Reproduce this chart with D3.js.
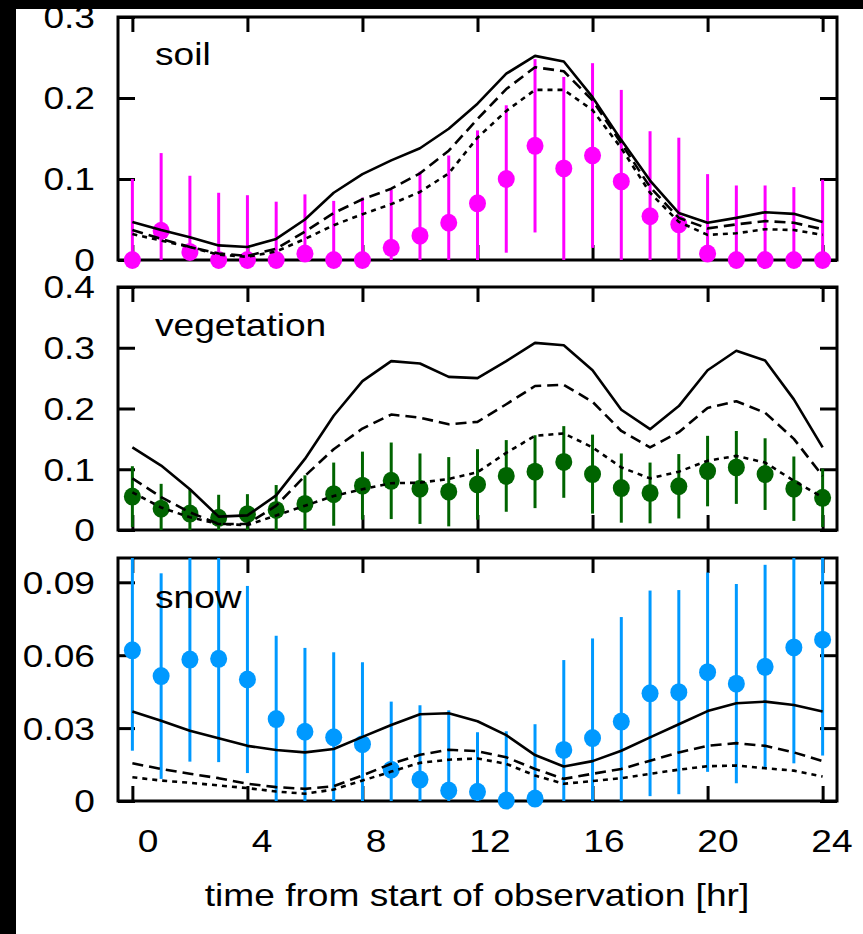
<!DOCTYPE html>
<html>
<head>
<meta charset="utf-8">
<script src="https://cdn.jsdelivr.net/npm/d3@7"></script>
<style>
  html, body { margin: 0; padding: 0; background: #fff; }
  svg { display: block; }
</style>
</head>
<body>
<svg id="chart" width="863" height="934"></svg>
<script>
// Hours of the day (one sample per hour)
const hours = [0,1,2,3,4,5,6,7,8,9,10,11,12,13,14,15,16,17,18,19,20,21,22,23,24];
const xTickValues = [0, 4, 8, 12, 16, 20, 24];
const xTickLabels = ["0", "4", "8", "12", "16", "20", "24"];

// Soil
const soilObs = [0, 0.036, 0.01, 0, 0, 0, 0.008, 0, 0, 0.015, 0.03, 0.046, 0.07, 0.1, 0.141, 0.113, 0.129, 0.097, 0.054, 0.044, 0.008, 0, 0, 0, 0];
const soilErr = [0.10, 0.096, 0.094, 0.083, 0.080, 0.072, 0.073, 0.073, 0.077, 0.072, 0.079, 0.083, 0.09, 0.091, 0.107, 0.113, 0.114, 0.113, 0.105, 0.107, 0.098, 0.092, 0.092, 0.09, 0.099];
const soilSolid = [0.047, 0.037, 0.028, 0.018, 0.016, 0.026, 0.05, 0.083, 0.106, 0.123, 0.138, 0.162, 0.193, 0.23, 0.252, 0.245, 0.201, 0.148, 0.098, 0.058, 0.046, 0.052, 0.059, 0.057, 0.047];
const soilDashed = [0.037, 0.026, 0.016, 0.008, 0.005, 0.014, 0.035, 0.058, 0.075, 0.088, 0.107, 0.135, 0.174, 0.211, 0.238, 0.233, 0.197, 0.144, 0.09, 0.052, 0.039, 0.044, 0.048, 0.046, 0.038];
const soilDotted = [0.032, 0.024, 0.016, 0.0065, 0.004, 0.0105, 0.026, 0.043, 0.0565, 0.069, 0.084, 0.107, 0.151, 0.184, 0.21, 0.21, 0.185, 0.138, 0.083, 0.047, 0.031, 0.033, 0.038, 0.037, 0.031];
const soilTicks = [0, 0.1, 0.2, 0.3];
const soilTickLabels = ["0", "0.1", "0.2", "0.3"];

// Vegetation
const vegObs = [0.055, 0.035, 0.027, 0.02, 0.026, 0.033, 0.043, 0.059, 0.073, 0.081, 0.068, 0.063, 0.075, 0.089, 0.096, 0.112, 0.092, 0.069, 0.061, 0.072, 0.097, 0.103, 0.092, 0.068, 0.053];
const vegErr = [0.05, 0.041, 0.04, 0.038, 0.033, 0.041, 0.047, 0.052, 0.056, 0.063, 0.058, 0.057, 0.058, 0.059, 0.060, 0.059, 0.065, 0.057, 0.050, 0.053, 0.058, 0.060, 0.059, 0.053, 0.048];
const vegSolid = [0.136, 0.106, 0.067, 0.022, 0.024, 0.057, 0.117, 0.188, 0.245, 0.278, 0.274, 0.252, 0.25, 0.278, 0.308, 0.304, 0.263, 0.198, 0.166, 0.204, 0.263, 0.295, 0.279, 0.215, 0.136];
const vegDashed = [0.085, 0.054, 0.029, 0.01, 0.01, 0.04, 0.089, 0.133, 0.167, 0.19, 0.185, 0.174, 0.178, 0.207, 0.237, 0.239, 0.211, 0.163, 0.136, 0.161, 0.201, 0.212, 0.193, 0.15, 0.089];
const vegDotted = [0.062, 0.037, 0.021, 0.01, 0.008, 0.024, 0.04, 0.056, 0.067, 0.077, 0.078, 0.084, 0.095, 0.127, 0.155, 0.159, 0.136, 0.103, 0.085, 0.096, 0.114, 0.122, 0.111, 0.081, 0.054];
const vegTicks = [0, 0.1, 0.2, 0.3, 0.4];
const vegTickLabels = ["0", "0.1", "0.2", "0.3", "0.4"];

// Snow
const snowObs = [0.062, 0.0514, 0.0582, 0.0585, 0.050, 0.0337, 0.0285, 0.0262, 0.0234, 0.0129, 0.0088, 0.0043, 0.0038, 0.0002, 0.001, 0.021, 0.0259, 0.0327, 0.0443, 0.0448, 0.053, 0.0483, 0.0552, 0.0632, 0.0664];
const snowErr = [0.0413, 0.0423, 0.042, 0.0425, 0.0385, 0.0343, 0.0345, 0.035, 0.0337, 0.028, 0.0306, 0.033, 0.0245, 0.0285, 0.0306, 0.037, 0.041, 0.043, 0.0423, 0.042, 0.041, 0.041, 0.042, 0.0477, 0.0477];
const snowSolid = [0.0368, 0.033, 0.0289, 0.0258, 0.0227, 0.021, 0.020, 0.0214, 0.0264, 0.0313, 0.0357, 0.0361, 0.0328, 0.0271, 0.0189, 0.0142, 0.0164, 0.0207, 0.0262, 0.0316, 0.037, 0.0402, 0.0409, 0.0395, 0.0368];
const snowDashed = [0.0155, 0.0132, 0.0112, 0.0094, 0.0071, 0.0057, 0.005, 0.0061, 0.0105, 0.0153, 0.019, 0.0211, 0.0205, 0.018, 0.0132, 0.0091, 0.0112, 0.0132, 0.0166, 0.020, 0.0227, 0.0238, 0.0227, 0.020, 0.0164];
const snowDotted = [0.0098, 0.0084, 0.0075, 0.0064, 0.0053, 0.0039, 0.003, 0.0047, 0.0084, 0.0121, 0.0157, 0.017, 0.0175, 0.0153, 0.0105, 0.0071, 0.0082, 0.0094, 0.0112, 0.0129, 0.0143, 0.0146, 0.0135, 0.0125, 0.0101];
const snowTicks = [0, 0.03, 0.06, 0.09];
const snowTickLabels = ["0", "0.03", "0.06", "0.09"];

const xTitle = "time from start of observation [hr]";

// ---- layout ----
const FONT = "'Liberation Sans', Arial, Helvetica, sans-serif";
const FS = 32;          // font size
const SX = 1.16;        // horizontal glyph stretch
const left = 118, right = 837;

const panels = [
  { name: "soil", top: 17, bottom: 260, ymax: 0.3, ticks: soilTicks, tickLabels: soilTickLabels,
    obs: soilObs, err: soilErr, solid: soilSolid, dashed: soilDashed, dotted: soilDotted,
    color: "#ff00ff", labelY: 65 },
  { name: "vegetation", top: 287, bottom: 530, ymax: 0.4, ticks: vegTicks, tickLabels: vegTickLabels,
    obs: vegObs, err: vegErr, solid: vegSolid, dashed: vegDashed, dotted: vegDotted,
    color: "#006400", labelY: 336 },
  { name: "snow", top: 558, bottom: 801, ymax: 0.1, ticks: snowTicks, tickLabels: snowTickLabels,
    obs: snowObs, err: snowErr, solid: snowSolid, dashed: snowDashed, dotted: snowDotted,
    color: "#0099ff", labelY: 608 }
];

const svg = d3.select("#chart");
svg.append("rect").attr("width", 863).attr("height", 934).attr("fill", "#fff");

const x = d3.scaleLinear().domain([-0.5, 24.5]).range([left, right]);
// tick labels sit slightly right of their tick marks
const xLabel = d3.scaleLinear().domain([0, 24]).range([148, 832]);

function stretchedText(g, tx, ty, str, anchor) {
  return g.append("text")
    .attr("transform", `translate(${tx},${ty}) scale(${SX},1)`)
    .attr("text-anchor", anchor)
    .attr("font-family", FONT)
    .attr("font-size", FS)
    .attr("fill", "#000")
    .text(str);
}

const defs = svg.append("defs");

panels.forEach((p, i) => {
  const y = d3.scaleLinear().domain([0, p.ymax]).range([p.bottom, p.top]);
  const g = svg.append("g").attr("class", "panel-" + p.name);

  defs.append("clipPath").attr("id", "clip" + i)
    .append("rect")
    .attr("x", left).attr("y", p.top)
    .attr("width", right - left).attr("height", p.bottom - p.top);

  // frame
  g.append("rect")
    .attr("x", left).attr("y", p.top)
    .attr("width", right - left).attr("height", p.bottom - p.top)
    .attr("fill", "none").attr("stroke", "#000").attr("stroke-width", 3);

  // inward ticks on all four sides
  const styleAxis = sel => {
    sel.select(".domain").remove();
    sel.selectAll(".tick line").attr("stroke", "#000").attr("stroke-width", 3);
    sel.selectAll(".tick text").remove();
  };
  g.append("g").attr("transform", `translate(0,${p.bottom})`)
    .call(d3.axisBottom(x).tickValues(xTickValues).tickSize(-15).tickFormat(""))
    .call(styleAxis);
  g.append("g").attr("transform", `translate(0,${p.top})`)
    .call(d3.axisTop(x).tickValues(xTickValues).tickSize(-15).tickFormat(""))
    .call(styleAxis);
  g.append("g").attr("transform", `translate(${left},0)`)
    .call(d3.axisLeft(y).tickValues(p.ticks).tickSize(-17).tickFormat(""))
    .call(styleAxis);
  g.append("g").attr("transform", `translate(${right},0)`)
    .call(d3.axisRight(y).tickValues(p.ticks).tickSize(-17).tickFormat(""))
    .call(styleAxis);

  // y tick labels
  p.ticks.forEach((t, k) => {
    stretchedText(svg, 95, y(t) + FS * 0.358, p.tickLabels[k], "end");
  });

  // error bars
  g.append("g").attr("clip-path", `url(#clip${i})`)
    .selectAll("line")
    .data(hours)
    .join("line")
    .attr("x1", h => x(h)).attr("x2", h => x(h))
    .attr("y1", (h, k) => y(p.obs[k] - p.err[k]))
    .attr("y2", (h, k) => y(p.obs[k] + p.err[k]))
    .attr("stroke", p.color).attr("stroke-width", 3);

  // observed points
  g.append("g").selectAll("ellipse")
    .data(hours)
    .join("ellipse")
    .attr("cx", h => x(h))
    .attr("cy", (h, k) => y(p.obs[k]))
    .attr("rx", 8.5).attr("ry", 9)
    .attr("fill", p.color);

  // model curves
  const line = d3.line().x((d, k) => x(hours[k])).y(d => y(d));
  const curves = [
    { data: p.solid, dash: null },
    { data: p.dashed, dash: "11,6" },
    { data: p.dotted, dash: "5,5" }
  ];
  curves.forEach(c => {
    g.append("path")
      .attr("d", line(c.data))
      .attr("fill", "none")
      .attr("stroke", "#000")
      .attr("stroke-width", 2.6)
      .attr("stroke-linejoin", "round")
      .attr("stroke-dasharray", c.dash);
  });

  // panel label
  stretchedText(g, 155, p.labelY, p.name, "start");
});

// x tick labels
xTickValues.forEach((h, k) => {
  stretchedText(svg, xLabel(h), 852, xTickLabels[k], "middle");
});

// x axis title
stretchedText(svg, 477, 906, xTitle, "middle");

// dark border bands
svg.append("rect").attr("x", 0).attr("y", 0).attr("width", 863).attr("height", 9).attr("fill", "#000");
svg.append("rect").attr("x", 0).attr("y", 0).attr("width", 16).attr("height", 934).attr("fill", "#000");
</script>
</body>
</html>
